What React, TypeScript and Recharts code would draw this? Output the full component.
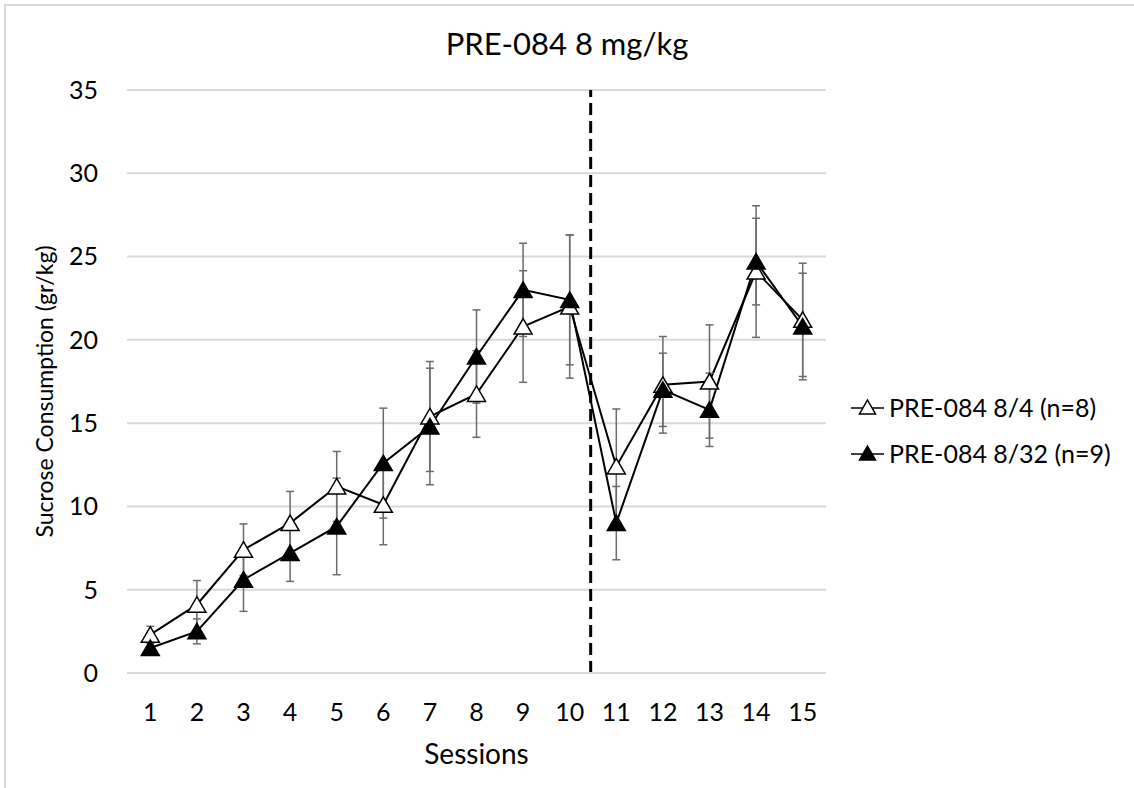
import React from 'react';
import { LineChart, Line, XAxis, YAxis, CartesianGrid, ErrorBar, ReferenceLine, Legend } from 'recharts';

const sessions = [1, 2, 3, 4, 5, 6, 7, 8, 9, 10, 11, 12, 13, 14, 15];
const dose4 = [2.3, 4.1, 7.4, 9.0, 11.2, 10.1, 15.4, 16.75, 20.8, 22.0, 12.4, 17.3, 17.5, 24.1, 21.2];
const dose4Err = [0.5, 1.45, 1.55, 1.9, 2.1, 2.4, 3.3, 2.6, 3.35, 4.3, 3.45, 2.9, 3.4, 3.95, 3.4];
const dose32 = [1.5, 2.5, 5.6, 7.2, 8.8, 12.6, 14.8, 19.0, 23.0, 22.4, 9.0, 17.0, 15.8, 24.7, 20.8];
const dose32Err = [0.3, 0.75, 1.9, 1.7, 2.9, 3.3, 3.5, 2.8, 2.8, 3.9, 2.2, 2.2, 2.2, 2.6, 3.2];
const yTicks = [0, 5, 10, 15, 20, 25, 30, 35];
const seriesOrder = ['dose4', 'dose32'];

const data = sessions.map((s, i) => ({
  session: s,
  dose4: dose4[i],
  dose4Err: dose4Err[i],
  dose32: dose32[i],
  dose32Err: dose32Err[i],
}));

const FONT = 'Lato, "Open Sans", sans-serif';

const triangle = (filled: boolean) => (props: any) => {
  const { cx, cy, index } = props;
  if (cx == null || cy == null) return null;
  return (
    <path
      key={`tri-${filled ? 'f' : 'o'}-${index}`}
      d={`M${cx},${cy - 8} L${cx + 9},${cy + 7.5} L${cx - 9},${cy + 7.5} Z`}
      fill={filled ? '#000' : '#fff'}
      stroke="#000"
      strokeWidth={1.5}
    />
  );
};

const legendContent = (props: any) => {
  const items = [...(props.payload || [])].sort(
    (a: any, b: any) => seriesOrder.indexOf(a.dataKey) - seriesOrder.indexOf(b.dataKey)
  );
  return (
    <div style={{ fontFamily: FONT, fontSize: 25, color: '#000' }}>
      {items.map((it: any) => {
        const filled = it.dataKey === 'dose32';
        return (
          <div key={it.value} style={{ display: 'flex', alignItems: 'center', height: 46 }}>
            <svg width={36} height={20} style={{ marginRight: 3 }}>
              <line x1={1} y1={11} x2={34} y2={11} stroke="#000" strokeWidth={1.5} />
              <path d="M17.5,3 L25.5,17 L9.5,17 Z" fill={filled ? '#000' : '#fff'} stroke="#000" strokeWidth={1.5} />
            </svg>
            <span>{it.value}</span>
          </div>
        );
      })}
    </div>
  );
};

const yLabel = (props: any) => {
  const vb = props.viewBox || { y: 90, height: 583 };
  const cy = vb.y + vb.height / 2 + 10;
  return (
    <text
      x={44}
      y={cy}
      transform={`rotate(-90, 44, ${cy})`}
      textAnchor="middle"
      dominantBaseline="central"
      fontFamily={FONT}
      fontSize={23}
      fill="#000"
    >
      Sucrose Consumption (gr/kg)
    </text>
  );
};

export default function App() {
  return (
    <div style={{ position: 'relative', width: 1134, height: 788, background: '#fff', overflow: 'hidden' }}>
      <style>{`body{margin:0;}`}</style>
      <div
        style={{
          position: 'absolute',
          left: 4,
          top: 4,
          right: 0,
          bottom: 0,
          borderTop: '2px solid #d9d9d9',
          borderLeft: '2px solid #d9d9d9',
        }}
      />
      <div
        style={{
          position: 'absolute',
          top: 24,
          left: 0,
          width: 1134,
          textAlign: 'center',
          fontFamily: FONT,
          fontSize: 31,
          color: '#000',
        }}
      >
        PRE-084 8 mg/kg
      </div>
      <div style={{ position: 'absolute', left: 0, top: 0 }}>
        <LineChart
          width={1134}
          height={788}
          data={data}
          margin={{ top: 90, right: 308, bottom: 15, left: 47 }}
          style={{ fontFamily: FONT }}
        >
          <CartesianGrid vertical={false} stroke="#d9d9d9" strokeWidth={2} />
          <XAxis
            type="number"
            dataKey="session"
            domain={[0.5, 15.5]}
            ticks={sessions}
            interval={0}
            height={100}
            axisLine={{ stroke: '#d9d9d9', strokeWidth: 2 }}
            tickLine={false}
            tickMargin={24}
            tick={{ fill: '#000', fontSize: 25 }}
            label={{ value: 'Sessions', position: 'insideBottom', offset: 9, fill: '#000', fontSize: 28 }}
          />
          <YAxis
            domain={[0, 35]}
            ticks={yTicks}
            width={80}
            axisLine={false}
            tickLine={false}
            tickMargin={23}
            tick={{ fill: '#000', fontSize: 25 }}
            label={yLabel}
          />
          <ReferenceLine x={10.45} stroke="#000" strokeWidth={3} strokeDasharray="12 6" />
          <Legend
            layout="horizontal"
            verticalAlign="middle"
            align="center"
            wrapperStyle={{ position: 'absolute', left: 850, top: 384, width: 284 }}
            content={legendContent}
          />
          <Line
            type="linear"
            dataKey="dose4"
            name="PRE-084 8/4 (n=8)"
            stroke="#000"
            strokeWidth={2}
            dot={triangle(false)}
            activeDot={false}
            isAnimationActive={false}
          >
            <ErrorBar dataKey="dose4Err" direction="y" width={4} stroke="#6b6b6b" strokeWidth={1.5} isAnimationActive={false} />
          </Line>
          <Line
            type="linear"
            dataKey="dose32"
            name="PRE-084 8/32 (n=9)"
            stroke="#000"
            strokeWidth={2}
            dot={triangle(true)}
            activeDot={false}
            isAnimationActive={false}
          >
            <ErrorBar dataKey="dose32Err" direction="y" width={4} stroke="#6b6b6b" strokeWidth={1.5} isAnimationActive={false} />
          </Line>
        </LineChart>
      </div>
    </div>
  );
}
